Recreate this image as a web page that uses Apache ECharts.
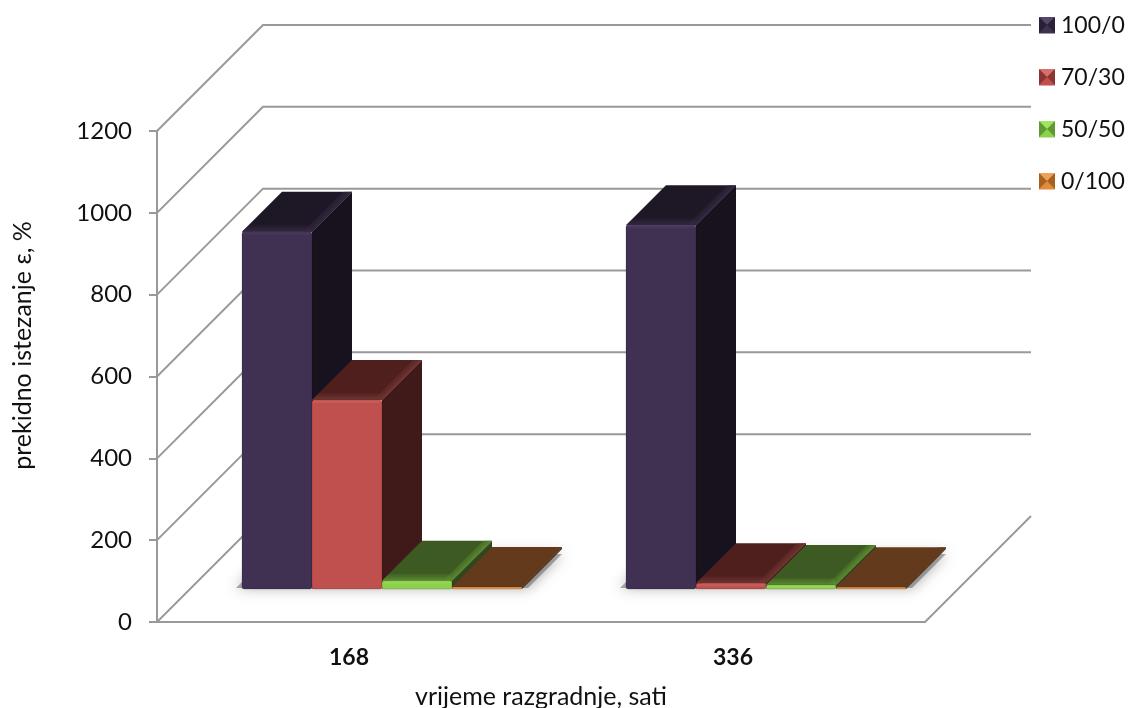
<!DOCTYPE html>
<html><head><meta charset="utf-8">
<style>html,body{margin:0;padding:0;background:#fff}#c{width:1130px;height:708px}</style>
<script src="https://cdn.jsdelivr.net/npm/echarts@6/dist/echarts.min.js"></script>
</head><body><div id="c"></div>
<script>
const categories = ['168', '336'];
const seriesNames = ['100/0', '70/30', '50/50', '0/100'];
const values100 = [873, 889];
const values70 = [462, 14];
const values50 = [20, 10];
const values0 = [5, 4];
const yTicks = [0, 200, 400, 600, 800, 1000, 1200];

const allValues = [values100, values70, values50, values0];
const faces = [
  {front:'#403152', top:'#1e1826', side:'#17121d', hi:'#332841', lit:'#57466c', dark:'#2a2036'},
  {front:'#c0504d', top:'#4f1f1d', side:'#3f1a18', hi:'#6f3431', lit:'#d5706c', dark:'#8a3532'},
  {front:'#8cd04c', top:'#3c5a22', side:'#2f471b', hi:'#5a8a30', lit:'#a4e264', dark:'#5f9a30'},
  {front:'#e08a3c', top:'#633a1b', side:'#4e2e15', hi:'#633a1b', lit:'#eda15b', dark:'#a8601f'}
];
const gridColor = '#999999';
const font = 'Lato, Carlito, Calibri, sans-serif';
const wallDepth = 106, barDepth = 40, barShift = 33, barRatio = 0.1823;

function wallItem(params, api) {
  const v = api.value(0), cs = params.coordSys;
  const y = api.coord([0, v])[1], x = cs.x, r = cs.x + cs.width;
  const st = {stroke: gridColor, lineWidth: 2, fill: null};
  const kids = [{type:'polyline', shape:{points: v === 0
      ? [[x, y], [x + wallDepth, y - wallDepth]]
      : [[x, y], [x + wallDepth, y - wallDepth], [r + wallDepth, y - wallDepth]]}, style: st}];
  if (v === 0) kids.push({type:'line', shape:{x1:r, y1:y, x2:r + wallDepth, y2:y - wallDepth}, style: st});
  return {type:'group', children: kids};
}
function shadowItem(params, api) {
  const i = api.value(0), band = api.size([1, 0])[0], w = band * barRatio;
  const c = api.coord([i, 0]);
  const x0 = c[0] - 2 * w + barShift - 6, x1 = x0 + 4 * w + 12, y0 = c[1] - barShift - 1, d = barDepth - 6;
  return {type:'polygon',
    shape:{points:[[x0, y0], [x1, y0], [x1 + d, y0 - d], [x0 + d, y0 - d]]},
    style:{fill:'rgba(90,90,90,0.5)', shadowColor:'rgba(60,60,60,0.85)', shadowBlur:14}};
}
function grad(x, y, x2, y2, from, to) {
  return {type:'linear', x, y, x2, y2, global:true,
    colorStops:[{offset:0, color:from}, {offset:1, color:to}]};
}
function barRenderer(s) {
  const f = faces[s];
  return function (params, api) {
    const i = api.value(0), v = api.value(1);
    const band = api.size([1, 0])[0], w = band * barRatio;
    const c = api.coord([i, 0]), t = api.coord([i, v]);
    const x0 = c[0] - 2 * w + s * w + barShift, x1 = x0 + w;
    const yb = c[1] - barShift, yt = t[1] - barShift, d = barDepth, e = 9;
    const fade = f.hi + '00';
    return {type:'group', children:[
      {type:'polygon', shape:{points:[[x1, yt], [x1 + d, yt - d], [x1 + d, yb - d], [x1, yb]]},
        style:{fill:f.side}},
      {type:'polygon', shape:{points:[[x0, yt], [x0 + d, yt - d], [x1 + d, yt - d], [x1, yt]]},
        style:{fill:f.top}},
      {type:'polygon', shape:{points:[[x1 - e, yt], [x1 + d - e, yt - d], [x1 + d, yt - d], [x1, yt]]},
        style:{fill:grad(x1 - e / 2 - 2, yt - e / 2 - 2, x1, yt, fade, f.hi)}},
      {type:'polygon', shape:{points:[[x0, yt], [x0 + 7, yt - 7], [x1 + 7 - e, yt - 7], [x1, yt]]},
        style:{fill:grad(0, yt - 8, 0, yt, fade, f.hi)}},
      {type:'rect', shape:{x:x0, y:yt, width:w, height:Math.max(yb - yt, 1), r:2},
        style:{fill:f.front, stroke:'rgba(0,0,0,0.15)', lineWidth:1}},
      {type:'rect', shape:{x:x0 + 1, y:yt, width:w - 2, height:Math.min(3, Math.max(yb - yt, 1)), r:1},
        style:{fill:f.lit, opacity:0.35}}
    ]};
  };
}

const series = [
  {type:'custom', name:'walls', silent:true, z:1, data:yTicks.map(v => [v]), encode:{y:0}, renderItem:wallItem},
  {type:'custom', name:'shadow', silent:true, z:2, data:categories.map((c, i) => [i]), encode:{x:0}, renderItem:shadowItem}
];
seriesNames.forEach((name, s) => {
  series.push({type:'custom', name, z:3 + s, itemStyle:{color:faces[s].front},
    data:categories.map((c, i) => [i, allValues[s][i]]), encode:{x:0, y:1}, renderItem:barRenderer(s)});
});

// bevelled legend swatch: triangles laid over the native legend icons
const swatchBevel = [];
seriesNames.forEach((name, s) => {
  const l = 1039, r = 1055, t = 17 + s * 52, b = t + 16, mx = l + 8, my = t + 8, f = faces[s];
  swatchBevel.push(
    {type:'polygon', z:50, shape:{points:[[l, t], [r, t], [mx, my]]}, style:{fill:f.lit}},
    {type:'polygon', z:50, shape:{points:[[l, t], [mx, my], [l, b]]}, style:{fill:f.dark}},
    {type:'polygon', z:50, shape:{points:[[r, t], [mx, my], [r, b]]}, style:{fill:f.dark}}
  );
});

const chart = echarts.init(document.getElementById('c'), null, {renderer:'canvas'});
chart.setOption({
  animation:false,
  backgroundColor:'#fff',
  grid:{left:157, top:131, width:768, height:491, containLabel:false, outerBoundsMode:'none'},
  legend:{orient:'vertical', left:1039, top:14, padding:0, itemWidth:16, itemHeight:16, itemGap:29, icon:'rect',
    data:seriesNames, selectedMode:false,
    textStyle:{fontFamily:font, fontSize:23, color:'#111', padding:[0,0,0,1]}},
  graphic:{elements:swatchBevel},
  xAxis:{type:'category', data:categories,
    name:'vrijeme razgradnje, sati', nameLocation:'middle', nameGap:62,
    nameTextStyle:{fontFamily:font, fontSize:25, color:'#111'},
    axisLine:{lineStyle:{color:gridColor, width:2}},
    axisTick:{length:8, lineStyle:{color:gridColor, width:2}},
    axisLabel:{fontFamily:font, fontSize:23, fontWeight:'bold', color:'#111', margin:24}},
  yAxis:{type:'value', min:0, max:1200, interval:200,
    name:'prekidno istezanje ε, %', nameLocation:'middle', nameGap:122,
    nameTextStyle:{fontFamily:font, fontSize:25, color:'#111', padding:[0,0,0,62]},
    axisLine:{show:true, lineStyle:{color:gridColor, width:2}},
    axisTick:{show:true, length:8, lineStyle:{color:gridColor, width:2}},
    splitLine:{show:false},
    axisLabel:{fontFamily:font, fontSize:24, color:'#111', margin:25, padding:[7,0,0,0], formatter:v => String(v)}},
  series
});
</script></body></html>
